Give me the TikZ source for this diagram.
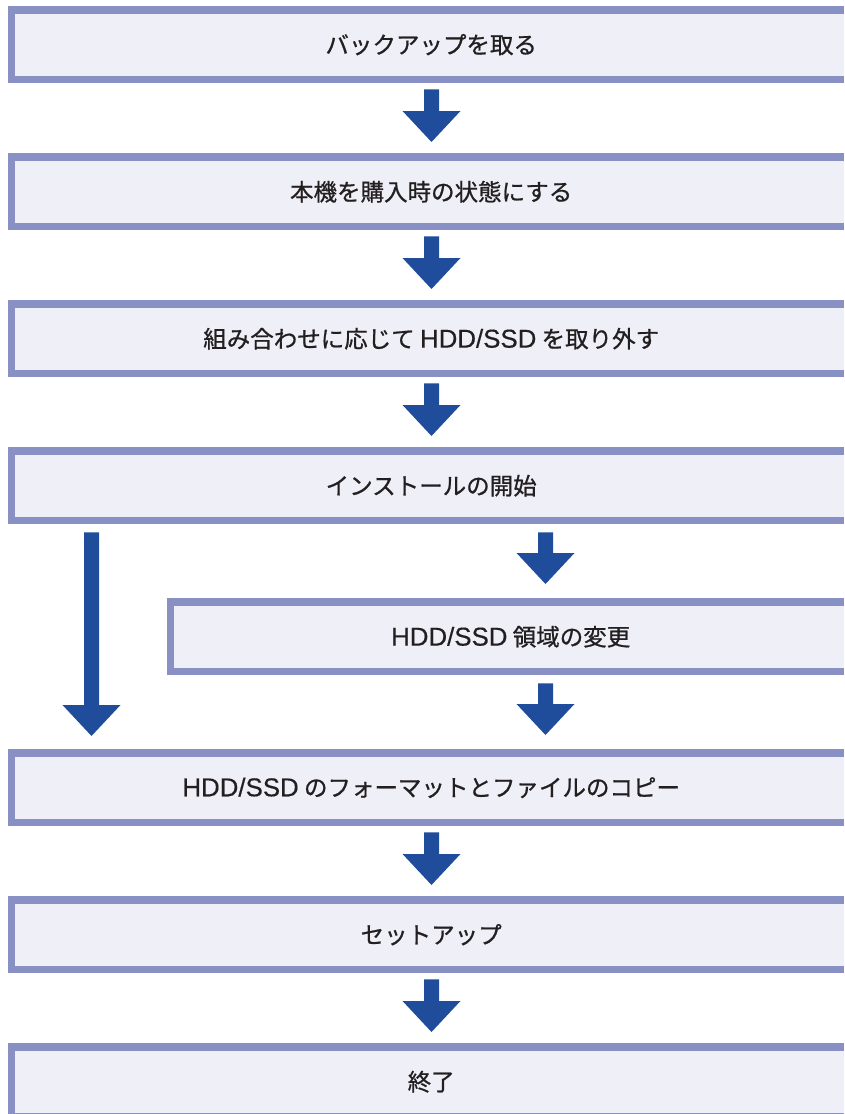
\documentclass[tikz,border=0pt]{standalone}
\usepackage{fontspec}
\setmainfont{Noto Sans CJK JP}[FakeBold=0.8]
\newfontfamily\lat{Liberation Sans}[FakeBold=0.4,Scale=1.1]
\usetikzlibrary{calc}
\definecolor{bandc}{RGB}{137,145,196}
\definecolor{fillc}{RGB}{239,239,248}
\definecolor{arrc}{RGB}{31,77,155}
\definecolor{textc}{RGB}{35,31,32}
\newcommand\fatarrow[5]{% x, from, to, top gap, bottom gap
  \fill[arrow] let \p1=(#2.south), \p2=(#3.north) in
    ({#1pt-7.5pt},{\y1-#4pt}) -- ({#1pt+7.5pt},{\y1-#4pt}) --
    ({#1pt+7.5pt},{\y2+#5pt+31pt}) -- ({#1pt+29pt},{\y2+#5pt+31pt}) --
    ({#1pt},{\y2+#5pt}) -- ({#1pt-29pt},{\y2+#5pt+31pt}) --
    ({#1pt-7.5pt},{\y2+#5pt+31pt}) -- cycle;}
\begin{document}
\begin{tikzpicture}[x=1pt,y=-1pt,
  box/.style={fill=fillc, draw=none, minimum height=77pt, inner sep=0pt, anchor=north west},
  wide/.style={box, minimum width=836pt},
  lbl/.style={font=\fontsize{23.5pt}{28pt}\selectfont, text=textc, inner sep=0pt, xshift=5pt},
  band/.style={fill=bandc},
  arrow/.style={fill=arrc}]
\useasboundingbox (0,0) rectangle (844,1114);
\clip (0,0) rectangle (844,1114);
\node[wide, label={[lbl]center:バックアップを取る}] (b1) at (8,6) {};
\node[wide, label={[lbl]center:本機を購入時の状態にする}] (b2) at (8,153) {};
\node[wide, label={[lbl]center:組み合わせに応じて {\lat HDD/SSD} を取り外す}] (b3) at (8,300) {};
\node[wide, label={[lbl]center:インストールの開始}] (b4) at (8,447) {};
\node[box, minimum width=677pt, label={[lbl]center:{\lat HDD/SSD} 領域の変更}] (b5) at (167,598) {};
\node[wide, label={[lbl]center:{\lat HDD/SSD} のフォーマットとファイルのコピー}] (b6) at (8,749) {};
\node[wide, label={[lbl]center:セットアップ}] (b7) at (8,896) {};
\node[wide, label={[lbl]center:終了}] (b8) at (8,1043) {};
\foreach \n in {b1,b2,b3,b4,b5,b6,b7,b8} {
  \fill[band] (\n.north west) rectangle ([yshift=-7.5pt]\n.north east);
  \fill[band] ([yshift=7.5pt]\n.south west) rectangle (\n.south east);
  \fill[band] (\n.south west) rectangle ([xshift=7pt]\n.north west);
}
\fatarrow{431.5}{b1}{b2}{6}{11}
\fatarrow{431.5}{b2}{b3}{6}{11}
\fatarrow{431.5}{b3}{b4}{6}{11}
\fatarrow{545.5}{b4}{b5}{8}{14}
\fatarrow{545.5}{b5}{b6}{8}{14}
\fatarrow{91.5}{b4}{b6}{8}{13}
\fatarrow{431.5}{b6}{b7}{6}{11}
\fatarrow{431.5}{b7}{b8}{6}{11}
\end{tikzpicture}
\end{document}
